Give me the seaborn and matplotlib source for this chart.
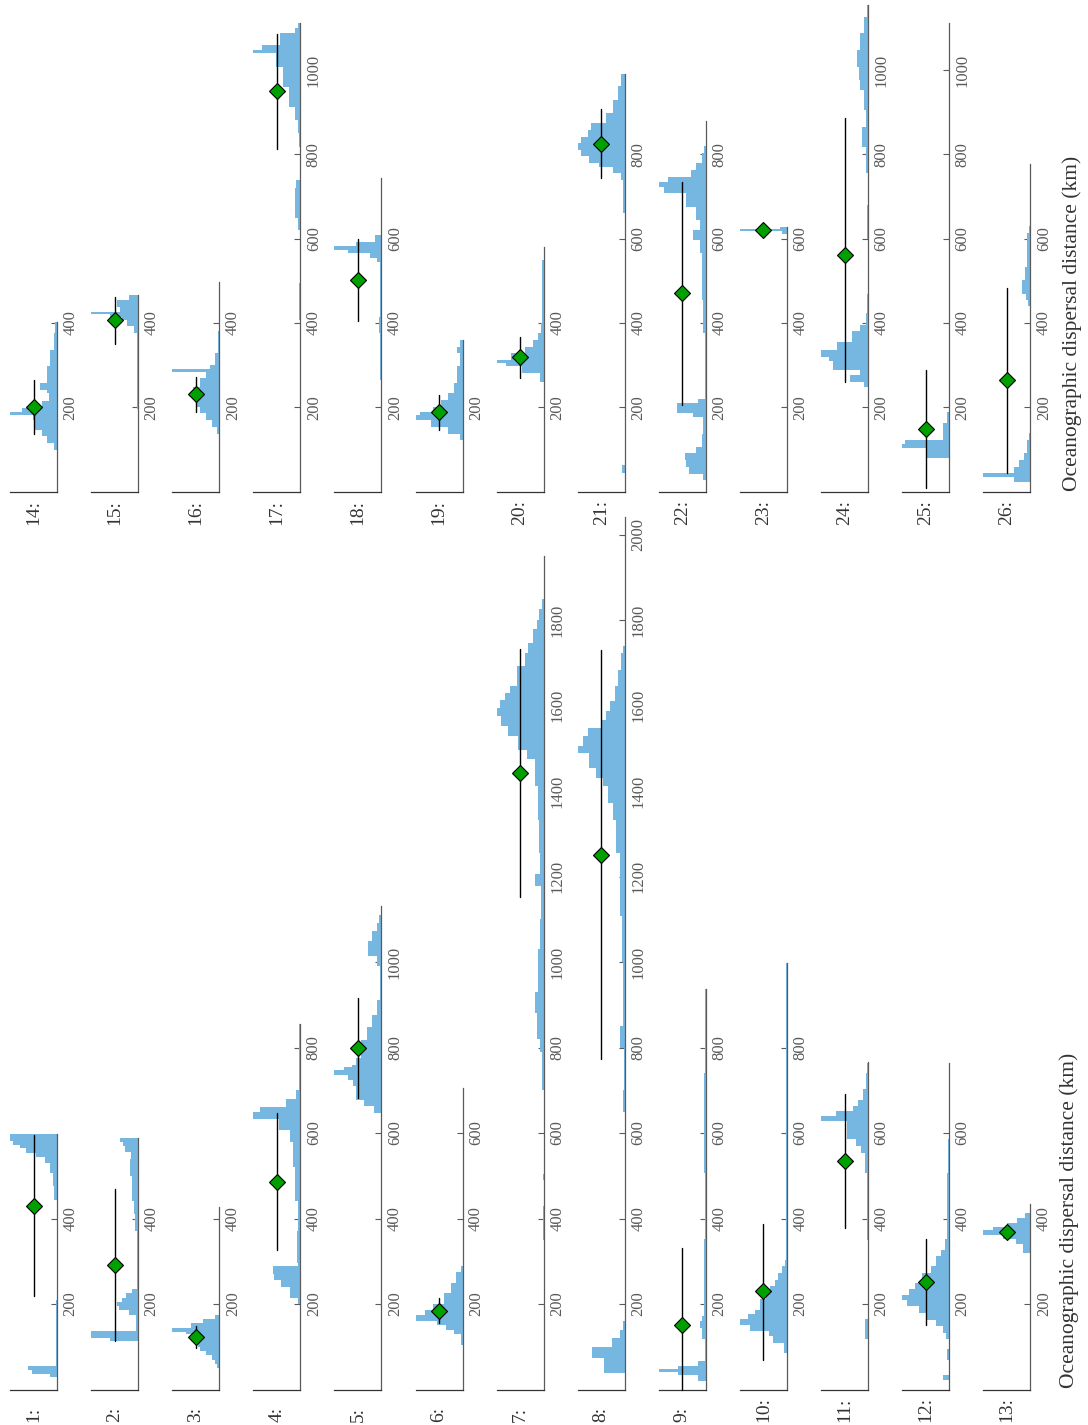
import numpy as np
import pandas as pd
import matplotlib
matplotlib.use("Agg")
import matplotlib.pyplot as plt
import seaborn as sns

sns.set_style("white")
plt.rcParams['font.family'] = ['Liberation Serif', 'DejaVu Serif']

# ---------------------------------------------------------------------------
# Histogram data per population (bin edges in km, bar heights in % of maximum)
edges_01 = [30, 37, 45, 55, 100, 210, 444, 476, 507, 530, 545, 553, 565, 573, 581, 597]
heights_01 = [14, 54, 61, 2, 3, 1, 6, 9, 14, 25, 45, 65, 78, 93, 100]
edges_02 = [113, 120, 137, 175, 185, 195, 205, 215, 225, 235, 290, 370, 410, 440, 500, 540, 555, 570, 580, 589]
heights_02 = [60, 100, 5, 20, 40, 45, 35, 25, 12, 3, 3, 6, 9, 13, 18, 15, 27, 33, 38]
edges_03 = [50, 60, 70, 80, 90, 100, 110, 120, 130, 135, 145, 155, 165, 175]
heights_03 = [4, 8, 15, 28, 40, 45, 50, 55, 70, 100, 60, 35, 8]
edges_04 = [199, 215, 240, 255, 270, 290, 296, 370, 440, 520, 580, 608, 632, 648, 660, 680, 700, 856]
heights_04 = [5, 22, 40, 55, 58, 5, 8, 5, 11, 16, 22, 45, 100, 85, 30, 10, 2]
edges_05 = [647, 663, 678, 710, 725, 735, 747, 755, 760, 775, 818, 849, 876, 912, 990, 1013, 1048, 1072, 1092, 1110]
heights_05 = [16, 37, 55, 60, 72, 100, 80, 62, 55, 44, 30, 19, 9, 3, 9, 28, 19, 10, 5]
edges_06 = [105, 130, 140, 150, 160, 175, 185, 200, 225, 250, 275, 290]
heights_06 = [4, 18, 35, 55, 100, 80, 62, 40, 25, 13, 4]
edges_07 = [350, 430, 490, 505, 700, 790, 820, 880, 930, 1030, 1100, 1177, 1205, 1255, 1333, 1411,
            1474, 1497, 1528, 1552, 1575, 1594, 1614, 1629, 1645, 1692, 1723, 1746, 1778, 1801, 1825, 1848]
heights_07 = [2, 0, 2, 0, 4, 7, 14, 18, 11, 7, 5, 18, 7, 9, 11, 18,
              35, 54, 75, 91, 100, 93, 82, 71, 57, 40, 33, 22, 14, 9, 4]
edges_08 = [39, 74, 100, 120, 139, 160, 650, 700, 800, 850, 1000, 1107, 1177, 1255, 1333, 1372, 1411,
            1431, 1454, 1489, 1505, 1528, 1548, 1567, 1587, 1610, 1645, 1684, 1723, 1740]
heights_08 = [43, 69, 26, 11, 4, 0, 3, 2, 9, 4, 5, 9, 11, 18, 25, 36,
              46, 62, 75, 100, 89, 79, 50, 39, 32, 21, 14, 7, 3]
edges_09 = [20, 35, 40, 47, 56, 66, 117, 145, 160, 172, 351, 507, 741, 936]
heights_09 = [17, 60, 100, 60, 17, 1, 9, 12, 9, 4, 2, 3, 1]
edges_10 = [86, 109, 125, 137, 152, 164, 176, 187, 211, 226, 242, 257, 273, 288, 304, 507, 998]
heights_10 = [7, 29, 39, 79, 100, 82, 68, 57, 45, 36, 25, 18, 11, 4, 2, 1]
edges_11 = [0, 117, 164, 350, 507, 554, 569, 585, 628, 639, 651, 663, 678, 702, 741, 764]
heights_11 = [1, 7, 1, 3, 7, 14, 25, 45, 100, 68, 32, 21, 11, 4, 2]
edges_12 = [23, 35, 70, 94, 117, 132, 148, 163, 179, 195, 210, 222, 234, 249, 273, 288, 312, 327, 351, 507, 585]
heights_12 = [13, 0, 4, 1, 6, 13, 28, 46, 64, 89, 100, 86, 72, 57, 38, 28, 17, 9, 4, 2]
edges_13 = [320, 340, 352, 362, 372, 380, 390, 402, 414]
heights_13 = [15, 30, 57, 100, 80, 50, 28, 10]
edges_14 = [99, 115, 131, 147, 170, 182, 188, 198, 214, 233, 241, 257, 297, 336, 376, 403]
heights_14 = [7, 21, 32, 46, 52, 100, 75, 32, 18, 22, 37, 21, 14, 7, 4]
edges_15 = [195, 376, 392, 407, 415, 422, 427, 438, 454, 466]
heights_15 = [2, 9, 23, 35, 59, 100, 38, 45, 20]
edges_16 = [138, 154, 170, 186, 202, 218, 249, 270, 283, 291, 300, 330, 380]
heights_16 = [5, 15, 29, 40, 50, 55, 40, 28, 100, 20, 9, 2]
edges_17 = [407, 496, 620, 650, 720, 740, 818, 850, 881, 913, 960, 1008, 1040, 1048, 1060, 1087, 1100, 1111]
heights_17 = [3, 0, 5, 12, 9, 0, 2, 4, 12, 23, 37, 51, 100, 82, 44, 12, 5]
edges_18 = [265, 376, 415, 545, 553, 565, 573, 583, 593, 608]
heights_18 = [2, 6, 3, 9, 24, 71, 100, 53, 13]
edges_19 = [123, 138, 154, 170, 182, 190, 202, 218, 233, 257, 297, 328, 344, 360]
heights_19 = [5, 30, 66, 100, 91, 63, 45, 30, 19, 12, 5, 12, 5]
edges_20 = [261, 281, 297, 305, 313, 328, 344, 360, 376, 399, 550]
heights_20 = [7, 47, 79, 100, 69, 40, 22, 11, 6, 3]
edges_21 = [44, 63, 660, 739, 755, 771, 779, 795, 810, 826, 842, 858, 874, 898, 929, 961, 990]
heights_21 = [5, 0, 3, 7, 25, 54, 75, 93, 100, 93, 79, 71, 39, 25, 14, 7]
edges_22 = [28, 43, 59, 75, 91, 107, 138, 178, 186, 210, 221, 376, 455, 565, 597, 621, 644,
            676, 708, 723, 735, 747, 763, 779, 802, 820]
heights_22 = [6, 35, 42, 45, 20, 9, 6, 28, 62, 17, 2, 6, 9, 13, 28, 13,
              20, 42, 89, 100, 80, 31, 20, 9, 3]
edges_23 = [612, 618, 624, 630]
heights_23 = [10, 100, 15]
edges_24 = [249, 261, 277, 289, 309, 320, 336, 356, 380, 396, 423, 470, 600, 680, 755, 818, 866,
            905, 953, 976, 1008, 1048, 1087, 1126, 1154]
heights_24 = [9, 38, 16, 74, 82, 100, 67, 34, 16, 5, 2, 0, 2, 0, 5, 12, 5, 9, 16, 20, 24, 16, 9, 3]
edges_25 = [79, 103, 112, 123, 162, 190]
heights_25 = [49, 100, 93, 13, 4]
edges_26 = [24, 36, 44, 59, 75, 91, 123, 140, 440, 455, 470, 502, 534, 613, 630]
heights_26 = [35, 100, 35, 24, 13, 6, 2, 0, 4, 8, 17, 10, 6, 2]

# median and range of each population (km), and the axis length (km)
median_km = [429, 292, 123, 486, 798, 183, 1443, 1251, 152, 230, 534, 252, 369,
             202, 407, 232, 951, 502, 188, 319, 825, 472, 621, 561, 148, 265]
low_km = [218, 113, 98, 326, 682, 156, 1152, 772, 0, 69, 378, 150, 362,
          138, 350, 190, 812, 405, 146, 269, 745, 206, 617, 261, 8, 45]
high_km = [596, 468, 148, 646, 915, 214, 1733, 1729, 331, 388, 692, 352, 376,
           265, 462, 271, 1085, 599, 229, 368, 907, 735, 625, 885, 289, 482]
axis_km = [597, 589, 427, 856, 1130, 706, 1949, 2040, 936, 998, 766, 764, 433,
           403, 466, 498, 1111, 745, 360, 580, 990, 880, 628, 1154, 1111, 777]

all_edges = [edges_01, edges_02, edges_03, edges_04, edges_05, edges_06, edges_07, edges_08,
             edges_09, edges_10, edges_11, edges_12, edges_13, edges_14, edges_15, edges_16,
             edges_17, edges_18, edges_19, edges_20, edges_21, edges_22, edges_23, edges_24,
             edges_25, edges_26]
all_heights = [heights_01, heights_02, heights_03, heights_04, heights_05, heights_06, heights_07,
               heights_08, heights_09, heights_10, heights_11, heights_12, heights_13, heights_14,
               heights_15, heights_16, heights_17, heights_18, heights_19, heights_20, heights_21,
               heights_22, heights_23, heights_24, heights_25, heights_26]

xlabel = "Oceanographic dispersal distance (km)"

BLUE = "#75b7e1"
GREEN = "#00a000"
GREY = "#5a5a5a"
DARK = "#333333"

# page layout in pixels (figure is drawn as a rotated page)
W, H = 1088, 1425
fig = plt.figure(figsize=(W / 100, H / 100), dpi=100)

for k in range(26):
    row = k % 13
    upper = k >= 13
    base = 491.7 if upper else 1389.5
    scale = 0.4217 if upper else 0.4275
    right = 57 + row * 81.1
    left = right - 47
    hgt = axis_km[k] * scale
    ax = fig.add_axes([left / W, 1 - base / H, 47 / W, hgt / H])
    ax.patch.set_alpha(0)

    # one observation per count unit, so the bin counts equal the read heights
    edges = np.array(all_edges[k], dtype=float)
    centers = (edges[:-1] + edges[1:]) / 2
    df = pd.DataFrame({"km": np.repeat(centers, all_heights[k])})
    sns.histplot(data=df, y="km", bins=list(edges), ax=ax,
                 color=BLUE, alpha=1, edgecolor=BLUE, linewidth=0)

    # range bar and median diamond
    ax.plot([50, 50], [low_km[k], high_km[k]], color="black", lw=1, clip_on=False, zorder=4)
    ax.plot(50, median_km[k], marker="D", ms=8, mfc=GREEN, mec="black", mew=0.8,
            clip_on=False, zorder=5)

    ax.set_xlim(100, 0)
    ax.set_ylim(0, axis_km[k])
    ax.set_xlabel("")
    ax.set_ylabel("")
    ax.set_xticks([])

    yt = list(range(200, int(axis_km[k]) + 1, 200))
    ax.set_yticks(yt)
    ax.set_yticklabels([str(t) for t in yt])
    ax.yaxis.tick_right()
    ax.tick_params(axis="y", direction="in", length=4, width=0.8, color=GREY,
                   labelcolor=GREY, labelsize=12, pad=4)
    for t in ax.yaxis.get_major_ticks():
        t.label2.set_rotation(90)
        t.label2.set_va("center")
        t.label2.set_ha("left")

    ax.spines["left"].set_visible(False)
    ax.spines["top"].set_visible(False)
    ax.spines["right"].set_color(GREY)
    ax.spines["bottom"].set_color(DARK)
    ax.spines["right"].set_linewidth(0.9)
    ax.spines["bottom"].set_linewidth(0.9)

    # population number under each panel
    fig.text((right - 23.5) / W, 1 - (base + 33) / H, f"{k + 1}:", rotation=90,
             ha="center", va="bottom", fontsize=14, color=DARK)

fig.text(1069 / W, 1 - 1220 / H, xlabel, rotation=90, ha="center", va="center",
         fontsize=15.5, color=DARK)
fig.text(1072 / W, 1 - 323 / H, xlabel, rotation=90, ha="center", va="center",
         fontsize=15.5, color=DARK)

fig.savefig("out.png", dpi=100, facecolor="white")
